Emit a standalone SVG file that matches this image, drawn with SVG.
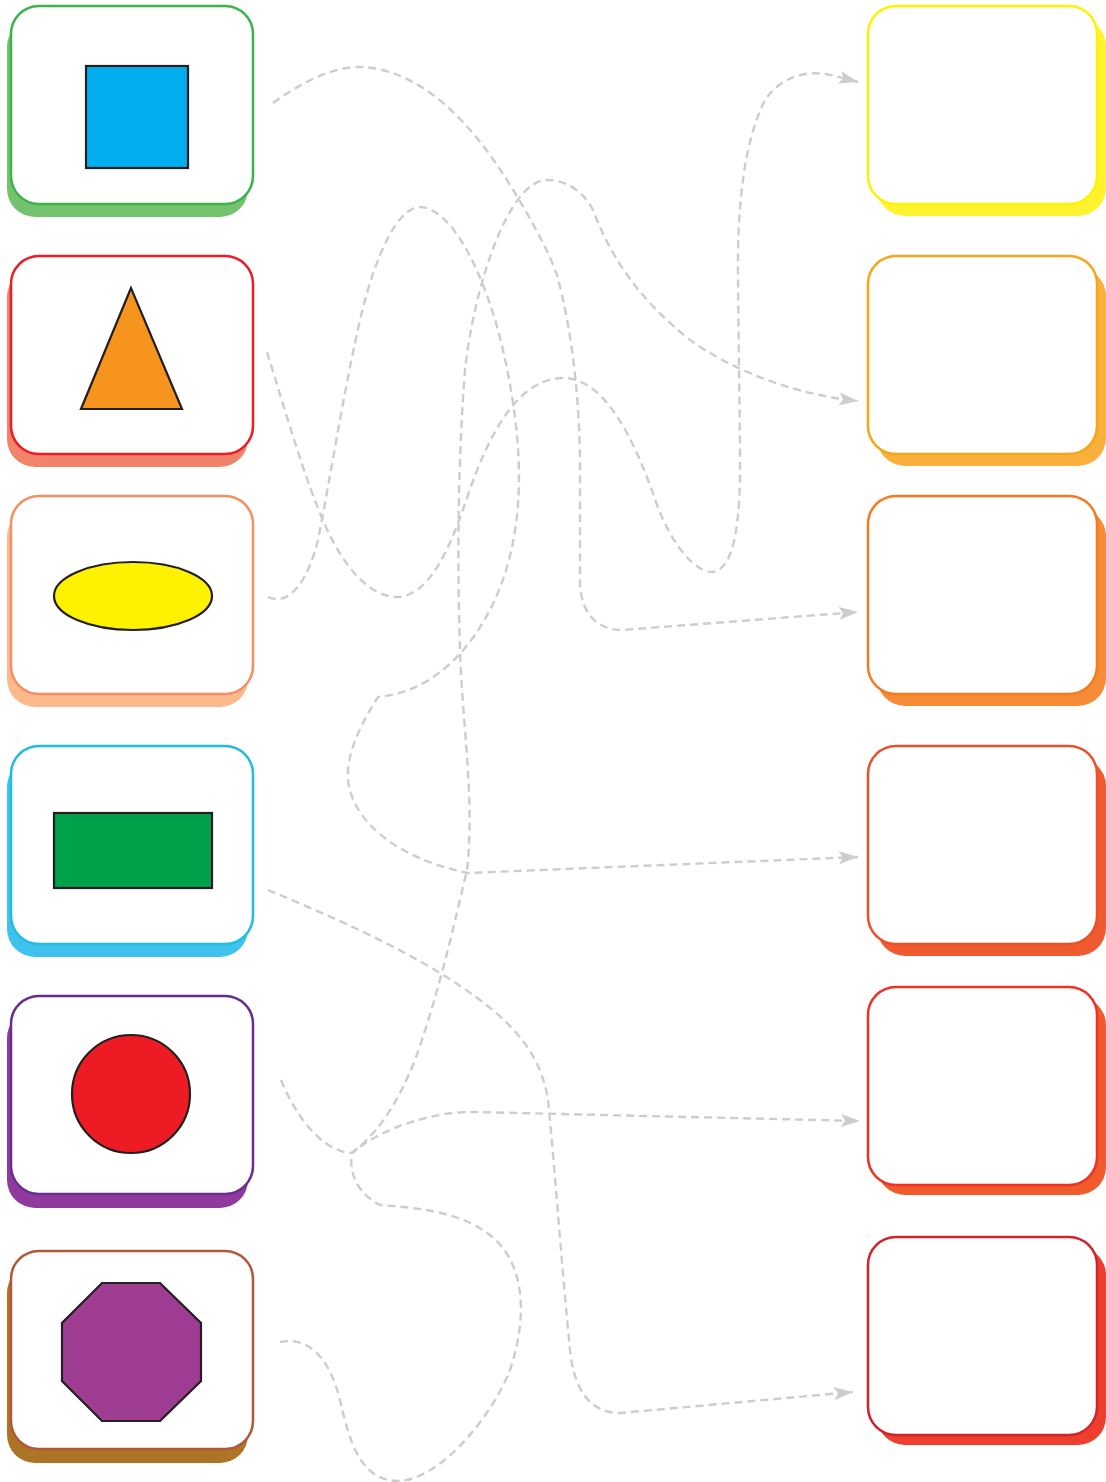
<svg xmlns="http://www.w3.org/2000/svg" width="1106" height="1482" viewBox="0 0 1106 1482">
<defs>
<style>
.card{fill:#ffffff;stroke-width:2.5}
.shape{stroke:#231f20;stroke-width:2.2}
.link{fill:none;stroke:#cdcdcd;stroke-width:2.4;stroke-dasharray:8 5}
</style>
<marker id="arr" markerUnits="userSpaceOnUse" markerWidth="20" markerHeight="14" refX="19" refY="7" orient="auto">
<path d="M0,0.5 L19,7 L0,13.5 L4,7 Z" fill="#cdcdcd"/>
</marker>
</defs>
<rect width="1106" height="1482" fill="#ffffff"/>

<g id="left-square">
<rect x="7" y="19" width="241" height="198" rx="28" fill="#74c26e"/>
<rect class="card" x="11" y="6" width="242" height="198" rx="28" stroke="#3cb44a"/>
<rect class="shape" x="86" y="66" width="102" height="102" fill="#00aeef"/>
</g>
<g id="left-triangle">
<rect x="7" y="269" width="241" height="198" rx="28" fill="#f1836a"/>
<rect class="card" x="11" y="256" width="242" height="198" rx="28" stroke="#ed1c24"/>
<polygon class="shape" points="131,288 81,409 182,409" fill="#f7941d"/>
</g>
<g id="left-ellipse">
<rect x="7" y="509" width="241" height="198" rx="28" fill="#fdb98c"/>
<rect class="card" x="11" y="496" width="242" height="198" rx="28" stroke="#f58e62"/>
<ellipse class="shape" cx="133" cy="596" rx="79" ry="34" fill="#fff200"/>
</g>
<g id="left-rectangle">
<rect x="7" y="759" width="241" height="198" rx="28" fill="#3fc3ee"/>
<rect class="card" x="11" y="746" width="242" height="198" rx="28" stroke="#1fbde6"/>
<rect class="shape" x="54" y="813" width="158" height="75" fill="#00a14b"/>
</g>
<g id="left-circle">
<rect x="7" y="1010" width="241" height="198" rx="28" fill="#8f3a9c"/>
<rect class="card" x="11" y="996" width="242" height="198" rx="28" stroke="#6a2c91"/>
<circle class="shape" cx="131" cy="1094" r="59" fill="#ed1c24"/>
</g>
<g id="left-octagon">
<rect x="7" y="1265" width="241" height="198" rx="28" fill="#ac7424"/>
<rect class="card" x="11" y="1251" width="242" height="198" rx="28" stroke="#b0593a"/>
<polygon class="shape" points="102,1283 160,1283 201,1323 201,1381 160,1421 102,1421 62,1381 62,1323" fill="#9f3d92"/>
</g>

<g id="right-1">
<rect x="877" y="18" width="229" height="198" rx="28" fill="#fff22e"/>
<rect class="card" x="868" y="6" width="229" height="198" rx="28" stroke="#fff100"/>
</g>
<g id="right-2">
<rect x="877" y="268" width="229" height="198" rx="28" fill="#fbb03b"/>
<rect class="card" x="868" y="256" width="229" height="198" rx="28" stroke="#f7a51b"/>
</g>
<g id="right-3">
<rect x="877" y="508" width="229" height="198" rx="28" fill="#f68c35"/>
<rect class="card" x="868" y="496" width="229" height="198" rx="28" stroke="#f47b20"/>
</g>
<g id="right-4">
<rect x="877" y="758" width="229" height="198" rx="28" fill="#ef5b2f"/>
<rect class="card" x="868" y="746" width="229" height="198" rx="28" stroke="#e8512a"/>
</g>
<g id="right-5">
<rect x="877" y="997" width="229" height="198" rx="28" fill="#f15a2b"/>
<rect class="card" x="868" y="987" width="229" height="198" rx="28" stroke="#ee3124"/>
</g>
<g id="right-6">
<rect x="877" y="1247" width="229" height="198" rx="28" fill="#ed3e2e"/>
<rect class="card" x="868" y="1237" width="229" height="198" rx="28" stroke="#d1232a"/>
</g>

<g id="connectors">
<path class="link" marker-end="url(#arr)" d="M273,103 C305,80 335,66 362,67 C420,70 470,120 510,185 C535,225 550,255 557,275 C572,330 580,400 580,470 L580,585 C582,615 598,630 622,630 L858,612"/>
<path class="link" marker-end="url(#arr)" d="M267,352 C285,410 305,480 325,525 C345,570 372,598 398,597 C428,595 448,555 468,495 C490,430 520,378 563,378 C605,378 635,440 657,505 C672,545 695,572 712,572 C735,570 741,520 740,450 L738,280 C737,200 745,140 765,100 C780,78 805,68 835,76 L858,82"/>
<path class="link" marker-end="url(#arr)" d="M268,597 C290,607 308,580 318,540 C330,480 342,400 360,320 C375,255 398,207 420,207 C450,208 480,265 498,330 C515,395 525,470 515,530 C505,600 470,650 440,672 C420,688 398,695 378,697 C360,725 346,755 348,780 C352,820 395,858 468,873 L858,857"/>
<path class="link" marker-end="url(#arr)" d="M268,890 C340,920 420,955 480,1000 C520,1030 542,1060 548,1100 C555,1170 562,1270 570,1350 C574,1390 590,1413 620,1413 L853,1392"/>
<path class="link" marker-end="url(#arr)" d="M281,1080 C295,1115 322,1152 352,1153 C370,1138 400,1122 440,1115 C455,1112 465,1112 475,1112 L860,1121"/>
<path class="link" marker-end="url(#arr)" d="M280,1342 C310,1336 330,1360 340,1400 C350,1445 362,1482 400,1481 C440,1478 490,1420 510,1370 C530,1310 522,1260 490,1235 C460,1212 420,1208 380,1205 C360,1195 348,1175 352,1153 C375,1135 395,1110 415,1060 C440,990 455,920 467,870 C475,800 462,720 460,650 C457,560 458,460 465,370 C475,280 510,180 547,180 C570,180 585,195 593,210 C612,260 640,300 690,340 C740,375 800,395 858,401"/>
</g>
</svg>
